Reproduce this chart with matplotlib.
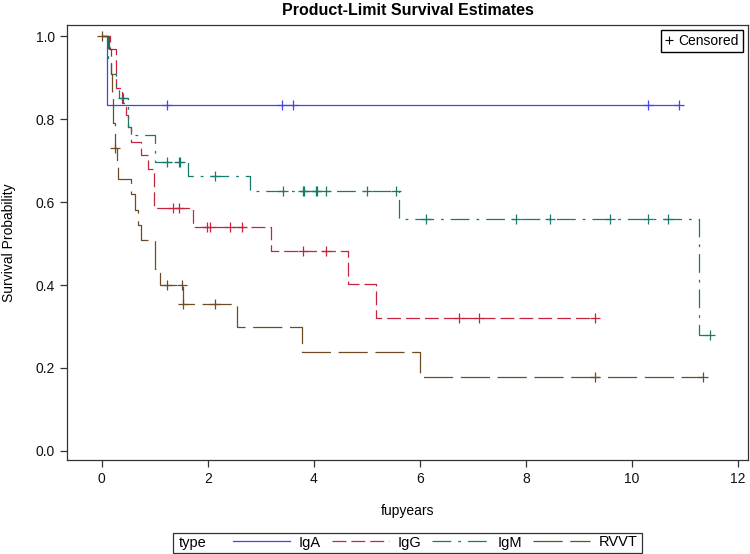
import numpy as np
import matplotlib.pyplot as plt
from matplotlib.lines import Line2D
from matplotlib.patches import Rectangle

plt.rcParams['font.family'] = ['Liberation Sans', 'DejaVu Sans']
plt.rcParams['lines.scale_dashes'] = False

groups = ['IgA', 'IgG', 'IgM', 'RVVT']

# step times and survival just after each step
iga_t = [0.0, 0.1]
iga_s = [1.0, 0.833]
iga_end = 10.89
iga_cens = [1.23, 3.4, 3.6, 10.3, 10.89]

igg_t = [0.0, 0.15, 0.26, 0.38, 0.45, 0.5, 0.55, 0.74, 0.87, 0.99, 1.73, 3.19, 4.65, 5.18]
igg_s = [1.0, 0.97, 0.875, 0.84, 0.81, 0.78, 0.745, 0.713, 0.68, 0.585, 0.54, 0.482, 0.402, 0.32]
igg_end = 9.31
igg_cens = [1.35, 1.45, 1.98, 2.04, 2.42, 2.64, 3.79, 4.23, 6.73, 7.12, 9.31]

igm_t = [0.0, 0.11, 0.18, 0.27, 0.33, 0.5, 0.55, 1.0, 1.63, 2.79, 5.6, 11.26]
igm_s = [1.0, 0.943, 0.91, 0.878, 0.851, 0.78, 0.761, 0.697, 0.664, 0.627, 0.558, 0.28]
igm_end = 11.48
igm_cens = [0.41, 1.24, 1.45, 1.48, 2.14, 3.41, 3.79, 3.82, 4.04, 4.06, 4.23, 5.0, 5.55,
            6.12, 7.82, 8.45, 9.59, 10.31, 10.68, 11.48]

rvvt_t = [0.0, 0.13, 0.17, 0.2, 0.22, 0.25, 0.28, 0.3, 0.55, 0.63, 0.68, 0.75, 1.0, 1.1,
          1.53, 2.55, 3.77, 6.0]
rvvt_s = [1.0, 0.97, 0.91, 0.85, 0.79, 0.73, 0.69, 0.655, 0.62, 0.58, 0.545, 0.508, 0.438, 0.40,
          0.354, 0.298, 0.239, 0.177]
rvvt_end = 11.35
rvvt_cens = [0.0, 0.25, 1.23, 1.51, 1.54, 2.14, 9.3, 11.35]

colors = ['#4242f5', '#c8233c', '#167a6c', '#6e4b22']
styles = ['-', (0, (10, 3.6)), (0, (13.5, 5, 2, 5)), (0, (21, 5.5))]


def plot_km(ax, t, s, end, cens, color, ls):
    """Draw a product-limit curve with its censor marks."""
    t = np.asarray(t)
    s = np.asarray(s)
    ax.step(np.r_[t, end], np.r_[s, s[-1]], where='post', color=color, lw=0.9, linestyle=ls)
    idx = np.searchsorted(t, cens, side='right') - 1
    ax.plot(cens, s[idx], linestyle='none', marker='+', color=color, ms=7, mew=0.9)


fig = plt.figure(figsize=(7.5, 5.54), dpi=100)
ax = fig.add_axes([67 / 750, 94 / 554, 681 / 750, 435 / 554])

data = [(iga_t, iga_s, iga_end, iga_cens),
        (igg_t, igg_s, igg_end, igg_cens),
        (igm_t, igm_s, igm_end, igm_cens),
        (rvvt_t, rvvt_s, rvvt_end, rvvt_cens)]
for (t, s, end, cens), c, ls in zip(data, colors, styles):
    plot_km(ax, t, s, end, cens, c, ls)

ax.set_xlim(-0.655, 12.19)
ax.set_ylim(-0.022, 1.027)
ax.set_xticks(np.arange(0, 13, 2))
ax.set_yticks(np.arange(0, 1.01, 0.2))
ax.yaxis.set_major_formatter(plt.FormatStrFormatter('%.1f'))
ax.tick_params(direction='out', length=5, width=0.9, labelsize=10, colors='#333333',
               labelcolor='#111111')
for sp in ax.spines.values():
    sp.set_color('#333333')
    sp.set_linewidth(0.9)

ax.set_xlabel('fupyears', fontsize=10, labelpad=13)
ax.set_ylabel('Survival Probability', fontsize=10, labelpad=14)
ax.set_title('Product-Limit Survival Estimates', fontsize=11.5, fontweight='bold', pad=7)

# censored key inside the plot
cens_handle = Line2D([], [], marker='+', linestyle='none', color='black', ms=6, mew=0.8)
ax.legend([cens_handle], ['Censored'], loc='upper right', fontsize=10,
          handlelength=0.6, handletextpad=0.4, borderpad=0.3, borderaxespad=0.35,
          fancybox=False, edgecolor='black', framealpha=1)

# group legend below the plot
handles = [Line2D([], [], color=c, lw=0.9, linestyle=ls) for c, ls in zip(colors, styles)]
fig.legend(handles, groups, ncol=4, loc='center left', bbox_to_anchor=(233 / 750, 11.5 / 554),
           frameon=False, fontsize=10.5, handlelength=3.9, handletextpad=0.6,
           columnspacing=0.75, borderpad=0, borderaxespad=0)
fig.text(179 / 750, 11.5 / 554, 'type', fontsize=10.5, va='center', ha='left')
fig.patches.append(Rectangle((173 / 750, 1.5 / 554), 469 / 750, 20 / 554,
                             transform=fig.transFigure, fill=False,
                             edgecolor='#333333', lw=0.9))

fig.savefig('out.png', dpi=100)
